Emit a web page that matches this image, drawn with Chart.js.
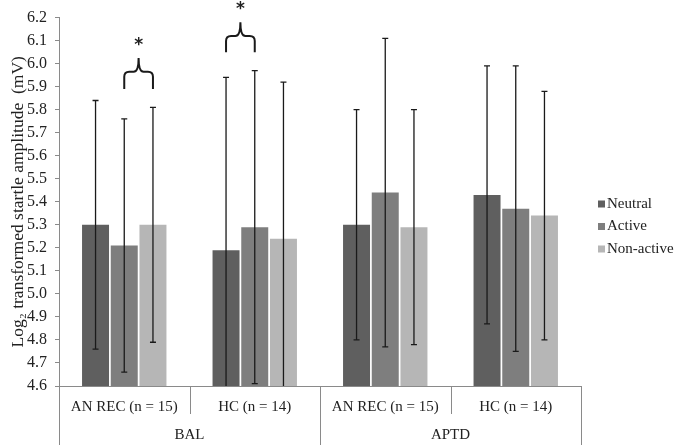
<!DOCTYPE html>
<html>
<head>
<meta charset="utf-8">
<script src="https://cdn.jsdelivr.net/npm/chart.js@4"></script>
<style>
  html, body { margin: 0; padding: 0; background: #fff; }
  #wrap { width: 675px; height: 445px; }
</style>
</head>
<body>
<div id="wrap"><canvas id="chart" width="675" height="445"></canvas></div>
<script>
// categories (inner) and conditions (outer)
const categories = ['AN REC (n = 15)', 'HC (n = 14)', 'AN REC (n = 15)', 'HC (n = 14)'];
const groups = ['BAL', 'APTD'];
const seriesNames = ['Neutral', 'Active', 'Non-active'];
const seriesColors = ['#5f5f5f', '#7e7e7e', '#b6b6b6'];

// bar heights (log2 startle amplitude)
const neutral = [5.30, 5.19, 5.30, 5.43];
const active = [5.21, 5.29, 5.44, 5.37];
const nonActive = [5.30, 5.24, 5.29, 5.34];

// error bar half-widths
const neutralErr = [0.54, 0.75, 0.50, 0.56];
const activeErr = [0.55, 0.68, 0.67, 0.62];
const nonActiveErr = [0.51, 0.68, 0.51, 0.54];

// y ticks
const yMin = 4.6;
const yMax = 6.2;
const yStep = 0.1;

// significance braces: category, from series, to series, [end, bar, tip, star] values
const braces = [
    { cat: 0, from: 1, to: 2, y: [5.89, 5.965, 6.025, 6.09] },
    { cat: 1, from: 0, to: 1, y: [6.05, 6.12, 6.18, 6.25] }
];

const serif = "'Liberation Serif', 'Times New Roman', serif";
const errors = [neutralErr, activeErr, nonActiveErr];

function drawBrace(ctx, x1, x2, yEnd, yBar, yTip) {
    const xc = (x1 + x2) / 2;
    const r = 5;
    ctx.beginPath();
    ctx.moveTo(x1, yEnd);
    ctx.lineTo(x1, yBar + r);
    ctx.quadraticCurveTo(x1, yBar, x1 + r, yBar);
    ctx.lineTo(xc - r, yBar);
    ctx.quadraticCurveTo(xc, yBar, xc, yTip);
    ctx.quadraticCurveTo(xc, yBar, xc + r, yBar);
    ctx.lineTo(x2 - r, yBar);
    ctx.quadraticCurveTo(x2, yBar, x2, yBar + r);
    ctx.lineTo(x2, yEnd);
    ctx.stroke();
}

const extrasPlugin = {
    id: 'extras',
    afterDatasetsDraw(chart) {
        const ctx = chart.ctx;
        const y = chart.scales.y;
        const area = chart.chartArea;
        ctx.save();
        ctx.strokeStyle = '#1a1a1a';
        ctx.lineWidth = 1.3;
        chart.data.datasets.forEach((ds, i) => {
            const meta = chart.getDatasetMeta(i);
            meta.data.forEach((bar, j) => {
                const v = ds.data[j];
                const e = errors[i][j];
                const top = y.getPixelForValue(v + e);
                const low = y.getPixelForValue(v - e);
                const bot = Math.min(low, area.bottom);
                ctx.beginPath();
                ctx.moveTo(bar.x, top);
                ctx.lineTo(bar.x, bot);
                ctx.moveTo(bar.x - 3, top);
                ctx.lineTo(bar.x + 3, top);
                if (low <= area.bottom) {
                    ctx.moveTo(bar.x - 3, low);
                    ctx.lineTo(bar.x + 3, low);
                }
                ctx.stroke();
            });
        });
        ctx.restore();
    },
    afterDraw(chart) {
        const ctx = chart.ctx;
        const x = chart.scales.x;
        const y = chart.scales.y;
        const area = chart.chartArea;
        const H = chart.height;
        const catW = (area.right - area.left) / categories.length;
        ctx.save();

        // category table under the axis
        ctx.strokeStyle = '#8a8a8a';
        ctx.lineWidth = 1;
        ctx.beginPath();
        ctx.moveTo(area.left, area.bottom + 0.5);
        ctx.lineTo(area.right, area.bottom + 0.5);
        for (let k = 0; k <= categories.length; k++) {
            const xx = Math.round(area.left + k * catW) + 0.5;
            ctx.moveTo(xx, area.bottom);
            ctx.lineTo(xx, k % 2 === 0 ? H : area.bottom + 28);
        }
        ctx.stroke();

        ctx.fillStyle = '#222';
        ctx.font = '15px ' + serif;
        ctx.textAlign = 'center';
        ctx.textBaseline = 'middle';
        categories.forEach((c, k) => {
            ctx.fillText(c, x.getPixelForValue(k), area.bottom + 21);
        });
        groups.forEach((g, k) => {
            ctx.fillText(g, area.left + (2 * k + 1) * catW, area.bottom + 49);
        });

        // significance braces
        ctx.strokeStyle = '#1a1a1a';
        ctx.lineWidth = 2;
        braces.forEach(b => {
            const x1 = chart.getDatasetMeta(b.from).data[b.cat].x;
            const x2 = chart.getDatasetMeta(b.to).data[b.cat].x;
            const py = b.y.map(v => y.getPixelForValue(v));
            drawBrace(ctx, x1, x2, py[0], py[1], py[2]);
            ctx.font = 'bold 17px "DejaVu Sans", sans-serif';
            ctx.fillText('*', (x1 + x2) / 2, py[3] + 3);
        });

        // legend
        ctx.font = '15px ' + serif;
        ctx.textAlign = 'left';
        seriesNames.forEach((s, k) => {
            const ly = 204 + k * 22.5;
            ctx.fillStyle = seriesColors[k];
            ctx.fillRect(598, ly - 3.5, 7, 7);
            ctx.fillStyle = '#222';
            ctx.fillText(s, 607, ly);
        });
        ctx.restore();
    }
};

const datasets = [neutral, active, nonActive].map((d, i) => ({
    label: seriesNames[i],
    data: d,
    backgroundColor: seriesColors[i],
    borderWidth: 0,
    barPercentage: 0.94,
    categoryPercentage: 0.66
}));

new Chart(document.getElementById('chart'), {
    type: 'bar',
    data: { labels: categories, datasets },
    options: {
        responsive: false,
        devicePixelRatio: 1,
        animation: false,
        layout: { padding: { top: 16, right: 94, left: 0, bottom: 0 } },
        plugins: { legend: { display: false }, tooltip: { enabled: false } },
        scales: {
            x: {
                grid: { display: false },
                border: { display: false },
                ticks: { display: false },
                afterFit: s => { s.height = 59; }
            },
            y: {
                min: yMin,
                max: yMax,
                grid: { drawOnChartArea: false, tickLength: 4, color: '#8a8a8a' },
                border: { color: '#8a8a8a' },
                ticks: {
                    stepSize: yStep,
                    padding: 8,
                    color: '#222',
                    font: { family: serif, size: 16 },
                    callback: v => v.toFixed(1)
                },
                title: {
                    display: true,
                    text: 'Log₂ transformed startle amplitude  (mV)',
                    color: '#222',
                    font: { family: serif, size: 17.5 },
                    padding: { top: 8, bottom: 0 }
                },
                afterFit: s => { s.width = 59; }
            }
        }
    },
    plugins: [extrasPlugin]
});
</script>
</body>
</html>
